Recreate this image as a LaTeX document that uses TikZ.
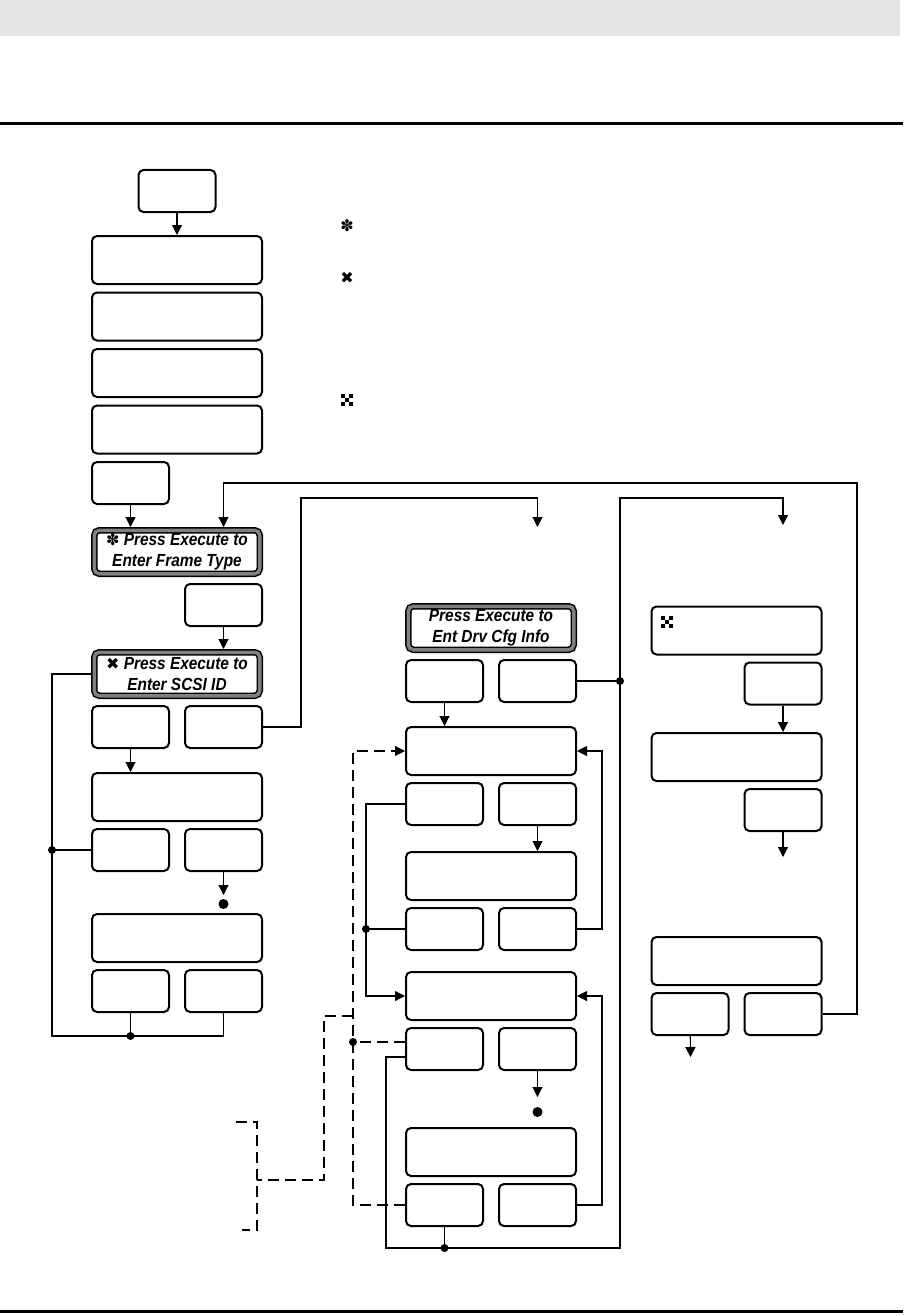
\documentclass[tikz,border=0pt]{standalone}
\usepackage{fontspec}
\setmainfont{Liberation Sans}
\newfontfamily\dispfont{Liberation Sans}[FakeStretch=0.88]
\newfontfamily\symfont{DejaVu Sans}
\usetikzlibrary{arrows.meta, positioning, calc}
\newcommand{\keysym}[1]{{\symfont\mdseries\upshape\fontsize{16}{16}\selectfont #1}}
\tikzset{
  wbox/.style   = {rectangle, draw, line width=2pt, rounded corners=5pt,
                   minimum width=170pt, minimum height=48pt, inner sep=0pt},
  sbox/.style   = {rectangle, draw, line width=2pt, rounded corners=5pt,
                   minimum width=77pt, minimum height=42pt, inner sep=0pt},
  hbox/.style   = {rectangle, draw, line width=1.5pt, double=gray,
                   double distance=3.5pt, rounded corners=5pt, outer sep=3.25pt,
                   minimum width=165.5pt, minimum height=43.5pt, align=center,
                   inner sep=2pt,
                   font=\dispfont\fontsize{17.5}{21}\selectfont\bfseries\itshape},
  link/.style   = {line width=1.1pt},
  arrow/.style  = {-{Triangle[length=10pt, width=10pt]}, line width=1.1pt},
  dlink/.style  = {line width=1.1pt, dash pattern=on 11pt off 6pt},
  darrow/.style = {dlink, -{Triangle[length=10pt, width=10pt]}},
  dot/.style    = {circle, fill, inner sep=0pt, minimum size=8pt},
  bigdot/.style = {circle, fill, inner sep=0pt, minimum size=10pt},
  dice/.pic     = {\foreach \dx/\dy in {-1/-1,1/-1,0/0,-1/1,1/1}
                     \fill (\dx*4-2,\dy*4-2) rectangle ++(4,4);},
}

\begin{document}
\begin{tikzpicture}[x=1pt, y=-1pt]
  \useasboundingbox (0,0) rectangle (903,1316);
  % header band and rules
  \fill[black!10] (0,0) rectangle (900,36);
  \fill (0,122) rectangle (903,125);
  \fill (0,1310) rectangle (903,1313);

  % key symbols
  \node[inner sep=0pt] (keyA) at (347,226) {\keysym{✽}};
  \node[inner sep=0pt] (keyB) at (347,278) {\keysym{✖}};
  \pic at (347,400) {dice};

  % left column
  \node[sbox] (start) at (177,191) {};
  \node[wbox] (st1) at (177,260) {};
  \node[wbox, below=6.5pt of st1] (st2) {};
  \node[wbox, below=6.5pt of st2] (st3) {};
  \node[wbox, below=6.5pt of st3] (st4) {};
  \node[sbox, below=6.5pt of st4.south west, anchor=north west] (sel) {};
  \node[hbox] (frame) at (177,552) {\keysym{✽} Press Execute to\\Enter Frame Type};
  \node[sbox, below=6pt of frame.south east, anchor=north east] (frnext) {};
  \node[hbox] (scsi) at (177,674) {\keysym{✖} Press Execute to\\Enter SCSI ID};
  \node[sbox, below=6pt of scsi.south west, anchor=north west] (scA) {};
  \node[sbox, below=6pt of scsi.south east, anchor=north east] (scB) {};
  \node[wbox] (id) at (177,797) {};
  \node[sbox, below=6pt of id.south west, anchor=north west] (idA) {};
  \node[sbox, below=6pt of id.south east, anchor=north east] (idB) {};
  \node[wbox] (idset) at (177,938) {};
  \node[sbox, below=6pt of idset.south west, anchor=north west] (isA) {};
  \node[sbox, below=6pt of idset.south east, anchor=north east] (isB) {};

  % middle column
  \node[hbox] (drv) at (491,628) {Press Execute to\\Ent Drv Cfg Info};
  \node[sbox, below=6pt of drv.south west, anchor=north west] (drA) {};
  \node[sbox, below=6pt of drv.south east, anchor=north east] (drB) {};
  \node[wbox] (cfg1) at (491,751) {};
  \node[sbox, below=6pt of cfg1.south west, anchor=north west] (cfg1A) {};
  \node[sbox, below=6pt of cfg1.south east, anchor=north east] (cfg1B) {};
  \node[wbox] (cfg2) at (491,876) {};
  \node[sbox, below=6pt of cfg2.south west, anchor=north west] (cfg2A) {};
  \node[sbox, below=6pt of cfg2.south east, anchor=north east] (cfg2B) {};
  \node[wbox] (cfg3) at (491,996) {};
  \node[sbox, below=6pt of cfg3.south west, anchor=north west] (cfg3A) {};
  \node[sbox, below=6pt of cfg3.south east, anchor=north east] (cfg3B) {};
  \node[wbox] (cfg4) at (491,1152) {};
  \node[sbox, below=6pt of cfg4.south west, anchor=north west] (cfg4A) {};
  \node[sbox, below=6pt of cfg4.south east, anchor=north east] (cfg4B) {};

  % right column
  \node[wbox] (r1) at (736.5,630.5) {};
  \pic at (667,622) {dice};
  \node[sbox, below=6pt of r1.south east, anchor=north east] (r1B) {};
  \node[wbox] (r2) at (736.5,757) {};
  \node[sbox, below=6pt of r2.south east, anchor=north east] (r2B) {};
  \node[wbox] (r3) at (736.5,961) {};
  \node[sbox, below=6pt of r3.south west, anchor=north west] (r3A) {};
  \node[sbox, below=6pt of r3.south east, anchor=north east] (r3B) {};

  % left column connectors
  \draw[arrow] (start) -- (st1);
  \draw[arrow] (sel) -- (sel |- frame.north);
  \draw[arrow] (frnext) -- (frnext |- scsi.north);
  \draw[arrow] (scA) -- (scA |- id.north);
  \coordinate (idEnd) at (223.5,895);
  \draw[arrow] (idB) -- (idEnd);
  \node[bigdot] (idDot) at (223.5,904) {};
  \coordinate (lbus) at (52,1036);
  \draw[link] (scsi.west) -| (lbus) -| (isB.south);
  \draw[link] (idA.west) -- (idA.west -| lbus) node[dot] {};
  \draw[link] (isA.south) -- (isA.south |- lbus) node[dot] {};

  % jumps between columns
  \coordinate (mbend) at (301,498);
  \coordinate (mEnd) at (537.5,527);
  \draw[arrow] (scB.east) -| (mbend) -| (mEnd);
  \coordinate (rbend) at (857,483);
  \draw[arrow] (r3B.east) -| (rbend) -| (frnext |- frame.north);
  \coordinate (bbot) at (386,1248);
  \coordinate (btop) at (620,498);
  \coordinate (rEnd) at (783,525);
  \draw[arrow] ([yshift=-8pt]cfg3A.west) -| (bbot) -| (btop) -| (rEnd);
  \draw[link] (drB.east) -- (drB.east -| btop) node[dot] {};
  \draw[link] (cfg4A.south) -- (cfg4A.south |- bbot) node[dot] {};

  % middle column connectors
  \draw[arrow] (drA) -- (drA |- cfg1.north);
  \draw[arrow] (cfg1B) -- (cfg1B |- cfg2.north);
  \coordinate (cfg3End) at (537.5,1097);
  \draw[arrow] (cfg3B) -- (cfg3End);
  \node[bigdot] (cfg3Dot) at (537.5,1112) {};
  \coordinate (ibus) at (366,996);
  \draw[arrow] (cfg1A.west) -| (ibus) -- (cfg3.west);
  \draw[link] (cfg2A.west) -- (cfg2A.west -| ibus) node[dot] {};
  \draw[arrow] (cfg2B.east) -- ++(25,0) |- (cfg1.east);
  \draw[arrow] (cfg4B.east) -- ++(25,0) |- (cfg3.east);

  % dashed return path and bracket
  \coordinate (dbus) at (353,1016);
  \draw[darrow] (cfg4A.west) -| (dbus |- cfg1.west) -- (cfg1.west);
  \draw[dlink] ([yshift=7pt]cfg3A.west) -- ([yshift=7pt]cfg3A.west -| dbus) node[dot] {};
  \coordinate (dknee) at (324,1180);
  \coordinate (brk) at (257,1180);
  \draw[dlink] (dbus) -| (dknee) -- (brk);
  \draw[dlink] (236,1122) -| (brk) |- (242,1230);

  % right column connectors
  \draw[arrow] (r1B) -- (r1B |- r2.north);
  \coordinate (r2End) at (783,857);
  \draw[arrow] (r2B) -- (r2End);
  \coordinate (r3End) at (690.5,1057);
  \draw[arrow] (r3A) -- (r3End);
\end{tikzpicture}
\end{document}
